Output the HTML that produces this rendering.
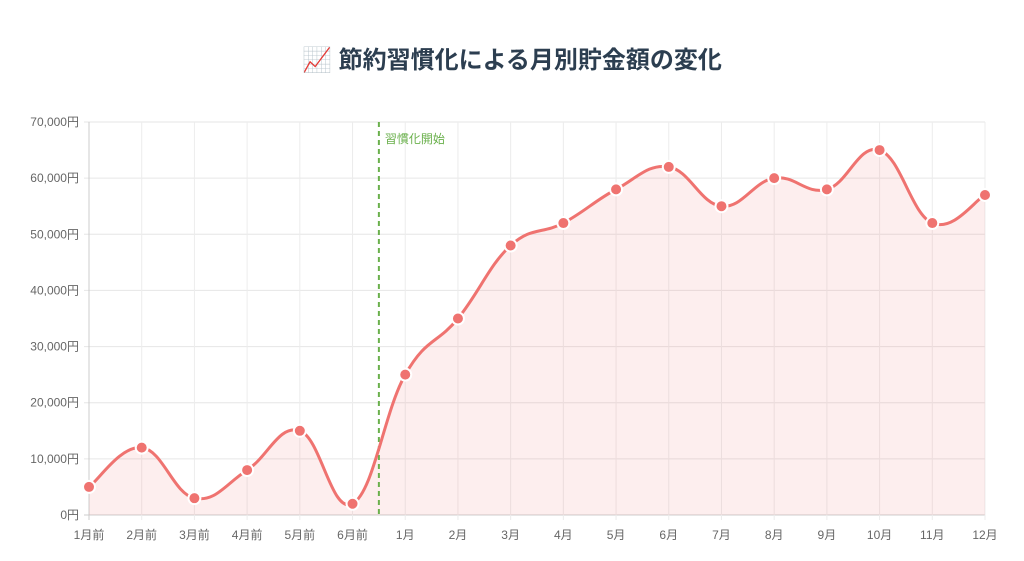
<!DOCTYPE html>
<html><head><meta charset="utf-8"><style>
body{margin:0;background:#fff;width:1024px;height:561px;overflow:hidden;font-family:"Liberation Sans","Noto Sans CJK JP",sans-serif}
#title{position:absolute;top:40px;left:0;width:1024px;text-align:center;font-size:24px;font-weight:bold;color:#2c3e50}
</style></head><body>
<div id="title">📈 節約習慣化による月別貯金額の変化</div>
<svg id="chart" width="1024" height="561" style="position:absolute;left:0;top:0"></svg>
<script>
const categories=["1月前","2月前","3月前","4月前","5月前","6月前","1月","2月","3月","4月","5月","6月","7月","8月","9月","10月","11月","12月"];
const savings=[5000,12000,3000,8000,15000,2000,25000,35000,48000,52000,58000,62000,55000,60000,58000,65000,52000,57000];
const yTicks=[0,10000,20000,30000,40000,50000,60000,70000];
const markerIndex=5.5;
const markerLabel="習慣化開始";
const NS="http://www.w3.org/2000/svg";
const svg=document.getElementById('chart');
const L=89,R=985,T=122,B=515,YMAX=70000;
const x=i=>L+i*(R-L)/(categories.length-1);
const y=v=>B-v/YMAX*(B-T);
function mk(t,a,p){const e=document.createElementNS(NS,t);for(const k in a)e.setAttribute(k,a[k]);(p||svg).appendChild(e);return e;}
const fmt=v=>v.toLocaleString('en-US')+'円';
yTicks.forEach(v=>{
 const g=mk('line',{x1:L-5,x2:R,y1:y(v),y2:y(v),stroke:v===0?'#ccc':'#e6e6e6','stroke-width':1});
 
 
 const t=mk('text',{x:L-10,y:y(v)+4,'text-anchor':'end','font-size':12,fill:'#666'});t.textContent=fmt(v);
 
 
});
categories.forEach((c,i)=>{
 const g=mk('line',{x1:x(i),x2:x(i),y1:T,y2:B+5,stroke:i===0?'#ccc':'#ececec','stroke-width':1});
 
 
 const t=mk('text',{x:x(i),y:B+24,'text-anchor':'middle','font-size':12,fill:'#666'});t.textContent=c;
 
 
});
// smooth path (Chart.js-like tension 0.4)
const pts=savings.map((v,i)=>[x(i),y(v)]);
let d=`M${pts[0][0]},${pts[0][1]}`;
const tn=0.4;
for(let i=0;i<pts.length-1;i++){
 const p0=pts[Math.max(0,i-1)],p1=pts[i],p2=pts[i+1],p3=pts[Math.min(pts.length-1,i+2)];
 const c1=[p1[0]+(p2[0]-p0[0])*tn/2,p1[1]+(p2[1]-p0[1])*tn/2];
 const c2=[p2[0]-(p3[0]-p1[0])*tn/2,p2[1]-(p3[1]-p1[1])*tn/2];
 d+=` C${c1[0]},${Math.min(B,c1[1])} ${c2[0]},${Math.min(B,c2[1])} ${p2[0]},${p2[1]}`;
}
const area=mk('path',{d:d+` L${R},${B} L${L},${B} Z`,fill:'rgba(240,116,112,0.12)'});


const mx=L+markerIndex*(R-L)/(categories.length-1);
const ml=mk('line',{x1:mx,x2:mx,y1:T,y2:B,stroke:'#6ab04c','stroke-width':2,'stroke-dasharray':'5,4'});


const mt=mk('text',{x:mx+6,y:T+21,'font-size':12,fill:'#6ab04c'});mt.textContent=markerLabel;


const line=mk('path',{d:d,fill:'none',stroke:'#ef7370','stroke-width':3});


pts.forEach(p=>{
 const c=mk('circle',{cx:p[0],cy:p[1],r:6,fill:'#ef7370',stroke:'#fff','stroke-width':2});
 
 
});
</script>
</body></html>
